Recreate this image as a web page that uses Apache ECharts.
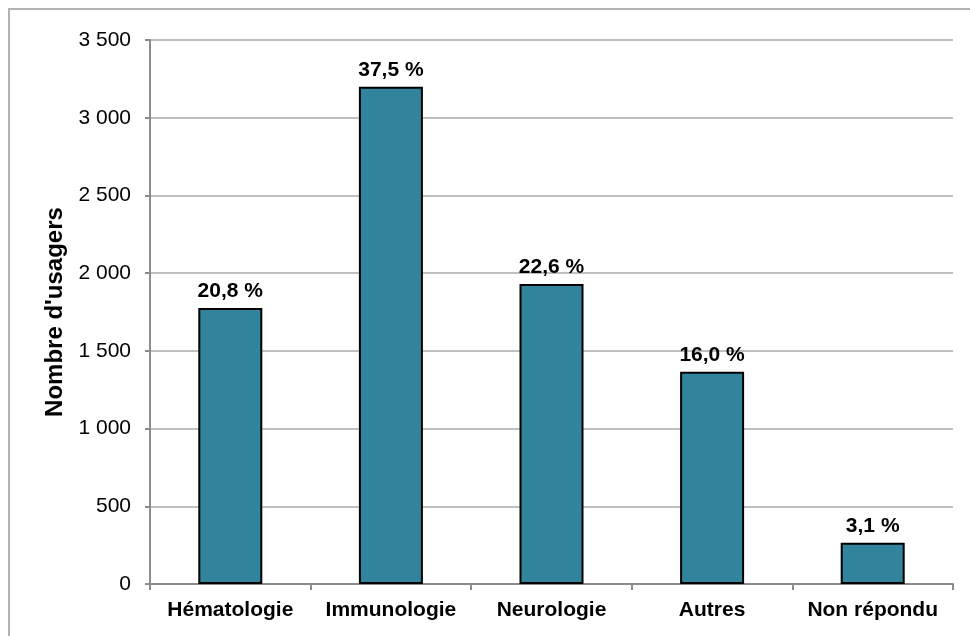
<!DOCTYPE html>
<html>
<head>
<meta charset="utf-8">
<script src="https://cdn.jsdelivr.net/npm/echarts@6/dist/echarts.min.js"></script>
<style>
  html, body { margin: 0; padding: 0; background: #fff; }
  #chart { width: 970px; height: 636px; }
</style>
</head>
<body>
<div id="chart"></div>
<script>
// Users per specialty, with the share of each group
const categories = ['Hématologie', 'Immunologie', 'Neurologie', 'Autres', 'Non répondu'];
const users = [1775, 3200, 1930, 1365, 265];
const shares = ['20,8 %', '37,5 %', '22,6 %', '16,0 %', '3,1 %'];
const yTicks = [0, 500, 1000, 1500, 2000, 2500, 3000, 3500];

const font = '"Liberation Sans", Arial, Helvetica, sans-serif';

function formatThousands(v) {
  return String(v).replace(/\B(?=(\d{3})+(?!\d))/g, ' ');
}

const chart = echarts.init(document.getElementById('chart'), null, { renderer: 'canvas' });
chart.setOption({
  animation: false,
  backgroundColor: '#ffffff',
  graphic: [{
    type: 'rect',
    shape: { x: 9, y: 9, width: 980, height: 660 },
    style: { fill: 'none', stroke: '#b3b3b3', lineWidth: 2 },
    silent: true
  }],
  grid: { left: 150, right: 17, top: 40, bottom: 52 },
  xAxis: {
    type: 'category',
    data: categories,
    axisLine: { lineStyle: { color: '#8c8c8c', width: 2 } },
    axisTick: { show: true, length: 6, lineStyle: { color: '#8c8c8c', width: 2 } },
    axisLabel: { interval: 0, color: '#000', fontFamily: font, fontWeight: 'bold', fontSize: 21, margin: 16 }
  },
  yAxis: {
    type: 'value',
    min: yTicks[0],
    max: yTicks[yTicks.length - 1],
    interval: 500,
    name: "Nombre d'usagers",
    nameLocation: 'middle',
    nameGap: 77,
    nameTextStyle: { color: '#000', fontFamily: font, fontWeight: 'bold', fontSize: 24 },
    axisLine: { show: true, lineStyle: { color: '#8c8c8c', width: 2 } },
    axisTick: { show: true, length: 5, lineStyle: { color: '#8c8c8c', width: 2 } },
    splitLine: { lineStyle: { color: '#bfbfbf', width: 2 } },
    axisLabel: { color: '#000', fontFamily: font, fontSize: 21, margin: 19, formatter: formatThousands }
  },
  series: [{
    type: 'bar',
    data: users,
    barWidth: 64,
    itemStyle: { color: '#31849b', borderColor: '#000', borderWidth: 2 },
    label: {
      show: true,
      position: 'top',
      distance: 6,
      color: '#000',
      fontFamily: font,
      fontWeight: 'bold',
      fontSize: 21,
      formatter: p => shares[p.dataIndex]
    }
  }]
});
</script>
</body>
</html>
